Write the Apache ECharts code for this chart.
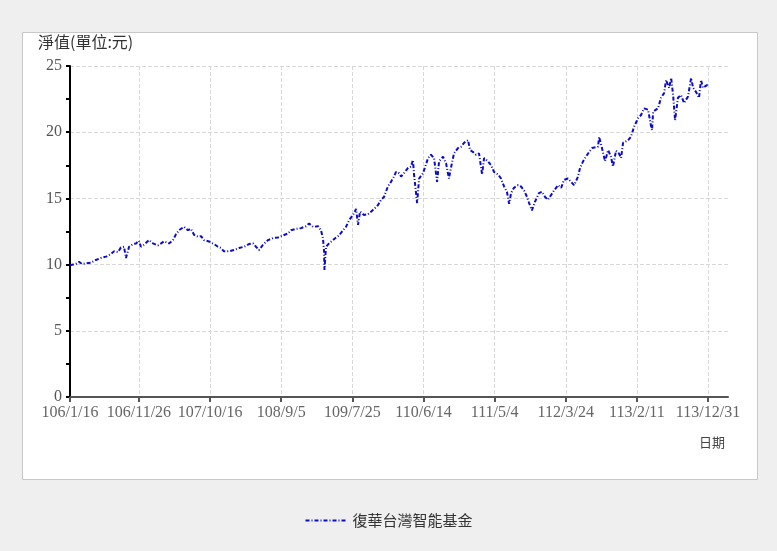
<!DOCTYPE html>
<html>
<head>
<meta charset="utf-8">
<script src="https://cdn.jsdelivr.net/npm/echarts@6/dist/echarts.min.js"></script>
<style>
html, body { margin: 0; padding: 0; background: #efefef; }
#chart { width: 777px; height: 551px; }
</style>
</head>
<body>
<div id="chart"></div>
<script>
// 基準日 106/1/16，navDays = 距基準日天數
var startDate = [2017, 1, 16];
var endDate = [2025, 4, 1];
var navDays = [
    0, 14, 27, 41, 55, 73, 96, 118, 141, 164,
    187, 200, 219, 232, 246, 255, 269, 287, 301, 314,
    323, 337, 360, 378, 401, 415, 428, 451, 469, 483,
    497, 506, 519, 537, 551, 565, 583, 597, 610, 633,
    656, 674, 688, 701, 724, 747, 770, 793, 815, 834,
    847, 861, 879, 902, 925, 947, 970, 993, 1007, 1029,
    1052, 1075, 1089, 1107, 1130, 1143, 1152, 1157, 1159, 1166,
    1180, 1198, 1212, 1225, 1244, 1257, 1271, 1289, 1303, 1312,
    1321, 1339, 1357, 1371, 1385, 1403, 1417, 1430, 1448, 1462,
    1476, 1485, 1499, 1508, 1521, 1540, 1553, 1562, 1567, 1581,
    1590, 1608, 1631, 1644, 1658, 1672, 1681, 1699, 1713, 1726,
    1735, 1749, 1767, 1781, 1795, 1813, 1822, 1836, 1849, 1863,
    1877, 1886, 1904, 1918, 1931, 1950, 1963, 1977, 1990, 2000,
    2009, 2022, 2041, 2054, 2068, 2082, 2091, 2104, 2118, 2136,
    2150, 2164, 2177, 2191, 2205, 2223, 2237, 2250, 2268, 2282,
    2296, 2314, 2323, 2337, 2350, 2364, 2378, 2387, 2405, 2410,
    2423, 2437, 2451, 2464, 2473, 2487, 2500, 2510, 2519, 2542,
    2555, 2569, 2587, 2601, 2615, 2633, 2646, 2651, 2656, 2678,
    2692, 2706, 2715, 2729, 2738, 2747, 2756, 2769, 2783, 2797,
    2815, 2829, 2838, 2851, 2865, 2874, 2883, 2901, 2906
];
var navValues = [
    9.95, 10.0, 10.05, 10.2, 10.05, 10.1, 10.15, 10.35, 10.5, 10.6,
    10.8, 11.0, 10.95, 11.3, 11.35, 10.5, 11.35, 11.55, 11.6, 11.8,
    11.35, 11.5, 11.85, 11.6, 11.45, 11.6, 11.75, 11.6, 11.85, 12.3,
    12.6, 12.75, 12.85, 12.6, 12.7, 12.25, 12.1, 12.15, 11.85, 11.75,
    11.55, 11.35, 11.25, 11.0, 11.0, 11.1, 11.25, 11.35, 11.55, 11.6,
    11.35, 11.1, 11.5, 11.85, 12.0, 12.05, 12.2, 12.35, 12.6, 12.7,
    12.75, 12.9, 13.1, 12.85, 12.9, 12.6, 12.0, 11.1, 9.6, 11.35,
    11.6, 11.85, 12.05, 12.2, 12.6, 12.85, 13.35, 13.75, 14.2, 13.0,
    14.0, 13.75, 13.8, 14.0, 14.2, 14.5, 14.9, 15.1, 15.9, 16.25,
    16.65, 17.0, 16.9, 16.65, 16.9, 17.3, 17.4, 17.9, 16.8, 14.65,
    16.5, 16.9, 18.05, 18.3, 18.05, 16.25, 17.8, 18.15, 17.65, 16.5,
    17.3, 18.4, 18.8, 18.9, 19.2, 19.4, 18.65, 18.5, 18.3, 18.4,
    16.8, 18.05, 17.8, 17.5, 17.0, 16.8, 16.5, 15.9, 15.5, 14.6,
    15.4, 15.8, 16.0, 15.9, 15.6, 15.1, 14.65, 14.1, 14.75, 15.4,
    15.5, 15.1, 14.9, 15.25, 15.6, 16.0, 15.8, 16.4, 16.5, 16.25,
    16.0, 16.65, 17.3, 17.8, 18.15, 18.5, 18.8, 18.65, 18.9, 19.65,
    18.8, 17.8, 18.65, 18.15, 17.4, 18.6, 18.4, 18.05, 19.2, 19.4,
    19.65, 20.4, 21.05, 21.3, 21.8, 21.7, 20.5, 20.15, 21.55, 21.8,
    22.6, 22.95, 23.95, 23.35, 24.1, 22.8, 20.9, 22.6, 22.8, 22.2,
    22.7, 24.1, 23.35, 23.05, 22.6, 23.95, 23.35, 23.55, 23.5
];
// x 軸刻度 (西元)
var tickDates = [
    [2017, 1, 16], [2017, 11, 26], [2018, 10, 16], [2019, 9, 5], [2020, 7, 25],
    [2021, 6, 14], [2022, 5, 4], [2023, 3, 24], [2024, 2, 11], [2024, 12, 31]
];
var yTicks = [0, 5, 10, 15, 20, 25];
var seriesName = '復華台灣智能基金';

function toTime (d, addDays) {
    return new Date(d[0], d[1] - 1, d[2] + (addDays || 0)).getTime();
}

let chartData = navDays.map(function (d, i) {
    return [toTime(startDate, d), navValues[i]];
});
let tickTimes = tickDates.map(function (d) { return toTime(d); });
let endTime = toTime(endDate);

// 民國年格式
function rocLabel (value) {
    let dt = new Date(value);
    return (dt.getFullYear() - 1911) + '/' + (dt.getMonth() + 1) + '/' + dt.getDate();
}

let myChart = echarts.init(document.getElementById('chart'));
const opts = {
    backgroundColor: '#efefef',
    animation: false,
    graphic: [
        {
            type: 'rect',
            z: -10,
            shape: { x: 22.5, y: 32.5, width: 735, height: 447 },
            style: { fill: '#ffffff', stroke: '#c8c8c8', lineWidth: 1 }
        },
        {
            type: 'text',
            left: 38,
            top: 34,
            style: { text: '淨值(單位:元)', font: '16px "Noto Sans CJK TC"', fill: '#333' }
        },
        {
            type: 'text',
            left: 699,
            top: 436,
            style: { text: '日期', font: '13px "Noto Sans CJK TC"', fill: '#444' }
        }
    ],
    legend: {
        left: 'center',
        top: 508,
        itemWidth: 42,
        itemHeight: 12,
        itemGap: 10,
        itemStyle: { opacity: 0 },
        textStyle: { fontFamily: 'Noto Sans CJK TC', fontSize: 15, color: '#333' },
        data: [seriesName]
    },
    grid: {
        left: 70,
        right: 49,
        top: 66,
        bottom: 154
    },
    xAxis: {
        type: 'value',
        min: tickTimes[0],
        max: endTime,
        axisLine: { lineStyle: { color: '#555', width: 2 } },
        axisTick: {
            show: true,
            customValues: tickTimes,
            length: 5,
            lineStyle: { color: '#555', width: 2 }
        },
        axisLabel: {
            customValues: tickTimes,
            formatter: rocLabel,
            hideOverlap: false,
            color: '#666',
            fontFamily: 'Liberation Serif',
            fontSize: 16,
            margin: 8
        },
        splitLine: {
            show: true,
            lineStyle: { type: 'dashed', color: '#d8d8d8', width: 1 }
        }
    },
    yAxis: {
        type: 'value',
        min: yTicks[0],
        max: yTicks[yTicks.length - 1],
        interval: 5,
        axisLine: { show: true, lineStyle: { color: '#000', width: 2 } },
        axisTick: { show: true, length: 4, lineStyle: { color: '#000', width: 2 } },
        minorTick: { show: true, splitNumber: 2, length: 4, lineStyle: { color: '#000', width: 2 } },
        axisLabel: {
            color: '#555',
            fontFamily: 'Liberation Serif',
            fontSize: 16,
            margin: 8
        },
        splitLine: {
            lineStyle: { type: 'dashed', color: '#d8d8d8', width: 1 }
        }
    },
    series: [
        {
            name: seriesName,
            type: 'line',
            data: chartData,
            symbol: 'none',
            showSymbol: false,
            itemStyle: { color: '#0c0cc8' },
            lineStyle: { color: '#0c0cc8', width: 2, type: [4, 2, 1, 2] }
        }
    ]
};
myChart.setOption(opts);
</script>
</body>
</html>
